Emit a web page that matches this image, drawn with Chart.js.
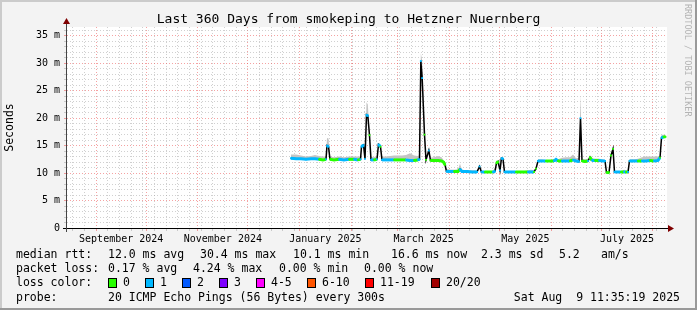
<!DOCTYPE html>
<html><head><meta charset="utf-8">
<script src="https://cdn.jsdelivr.net/npm/chart.js@4.4.1/dist/chart.umd.min.js"></script>
<style>
html,body{margin:0;padding:0;background:#f3f3f3;overflow:hidden;}
#wrap{position:relative;width:697px;height:310px;background:#f3f3f3;font-family:"DejaVu Sans Mono",monospace;color:#000;overflow:hidden;}
#c{position:absolute;left:0;top:0;}
.txt{position:absolute;white-space:pre;font-size:11.5px;line-height:13px;}
.sw{position:absolute;top:278px;width:9px;height:10px;border:1px solid #000;box-sizing:border-box;}
#title{position:absolute;left:0;top:12px;width:697px;text-align:center;font-size:13px;line-height:14px;white-space:pre;}
#rrd{position:absolute;left:683px;top:4px;writing-mode:vertical-rl;font-size:8.5px;line-height:10px;color:#b4b4b4;white-space:pre;}
.edge{position:absolute;}
</style></head>
<body>
<div id="wrap">
<canvas id="c" width="697" height="310"></canvas>
<div id="title">Last 360 Days from smokeping to Hetzner Nuernberg</div>
<div id="rrd">RRDTOOL / TOBI OETIKER</div>
<div class="txt" style="left:16px;top:248px">median rtt:</div>
<div class="txt" style="left:108px;top:248px">12.0 ms avg</div>
<div class="txt" style="left:200px;top:248px">30.4 ms max</div>
<div class="txt" style="left:293px;top:248px">10.1 ms min</div>
<div class="txt" style="left:391px;top:248px">16.6 ms now</div>
<div class="txt" style="left:481px;top:248px">2.3 ms sd</div>
<div class="txt" style="left:559px;top:248px">5.2</div>
<div class="txt" style="left:601px;top:248px">am/s</div>
<div class="txt" style="left:16px;top:262px">packet loss:</div>
<div class="txt" style="left:108px;top:262px">0.17 % avg</div>
<div class="txt" style="left:193px;top:262px">4.24 % max</div>
<div class="txt" style="left:279px;top:262px">0.00 % min</div>
<div class="txt" style="left:364px;top:262px">0.00 % now</div>
<div class="txt" style="left:16px;top:276px">loss color:</div>
<div id="lossLegend"></div>
<div class="txt" style="left:16px;top:291px">probe:</div>
<div class="txt" style="left:108px;top:291px">20 ICMP Echo Pings (56 Bytes) every 300s</div>
<div class="txt" style="right:17px;top:291px">Sat Aug  9 11:35:19 2025</div>
<div class="edge" style="left:0;top:0;width:697px;height:2px;background:#cbcbcb"></div>
<div class="edge" style="left:0;top:0;width:2px;height:310px;background:#cbcbcb"></div>
<div class="edge" style="right:0;top:0;width:2px;height:310px;background:#999"></div>
<div class="edge" style="left:0;bottom:0;width:697px;height:2px;background:#999"></div>
</div>
<script>
// ---- data (x in days since the start of the 360-day window) ----
const dayOffsets = [134.4,137.4,140.4,143.4,146.4,148.8,151.2,153.6,155.4,156.0,156.9,157.8,160.2,163.2,166.2,169.2,172.2,174.6,176.1,176.7,177.9,178.8,179.7,180.5,181.5,182.4,184.2,186.0,186.9,188.1,189.0,191.4,193.8,196.2,198.6,201.0,203.4,205.8,208.2,210.6,211.5,212.3,213.1,214.5,215.4,217.1,218.1,220.2,222.6,224.7,225.9,226.8,227.7,229.8,232.2,234.6,235.8,237.0,240.0,243.0,246.0,247.5,248.7,250.8,253.2,255.6,256.8,257.7,258.6,259.8,260.7,261.6,262.5,264.6,267.0,269.4,271.8,274.2,276.6,278.4,280.2,281.4,282.6,285.0,287.4,289.8,292.2,293.4,294.6,297.0,299.4,301.8,303.6,305.4,307.2,308.1,309.0,310.8,312.6,313.8,315.0,316.8,319.2,321.6,322.8,323.7,325.2,326.4,327.6,328.5,330.6,332.4,334.2,335.4,336.6,337.5,340.2,342.6,345.0,347.4,349.8,352.2,354.6,355.8,356.7,357.9,359.1];
const medianMs = [12.7,12.6,12.6,12.5,12.6,12.6,12.5,12.4,12.5,15.0,14.8,12.5,12.4,12.5,12.4,12.5,12.5,12.4,12.5,14.8,15.1,12.6,20.6,20.4,16.9,12.4,12.4,12.5,15.2,14.8,12.4,12.4,12.4,12.4,12.4,12.4,12.4,12.3,12.3,12.4,12.5,30.4,27.3,17.0,12.4,14.1,12.3,12.3,12.3,12.2,12.0,11.5,10.3,10.3,10.3,10.3,10.7,10.3,10.3,10.2,10.2,11.2,10.2,10.2,10.2,10.2,10.3,11.8,12.1,10.5,12.7,12.6,10.2,10.2,10.2,10.2,10.2,10.2,10.2,10.2,10.2,10.8,12.2,12.2,12.2,12.2,12.2,12.5,12.2,12.2,12.2,12.2,12.4,12.2,12.1,20.0,12.2,12.1,12.2,12.9,12.3,12.3,12.3,12.2,12.2,10.1,10.1,13.2,14.4,10.2,10.2,10.2,10.2,10.2,10.2,12.2,12.2,12.2,12.2,12.2,12.3,12.2,12.3,12.8,16.4,16.6,16.6];
const smokeHighMs = [13.4,13.4,13.2,13.0,13.1,13.3,13.1,13.0,13.0,16.4,16.3,13.0,12.9,13.0,12.9,13.0,13.0,13.0,13.0,15.2,15.3,13.0,22.9,22.5,17.5,13.0,12.9,13.2,15.5,15.1,13.0,13.0,13.1,13.2,13.2,13.2,13.3,13.6,13.2,13.1,13.3,31.8,30.5,17.6,13.0,14.6,12.8,12.9,13.1,12.9,12.4,11.9,10.8,10.6,10.6,10.7,11.7,10.6,10.5,10.5,10.5,11.4,10.4,10.4,10.4,10.4,11.0,12.0,12.3,12.5,12.9,12.8,10.4,10.4,10.4,10.4,10.4,10.4,10.5,10.6,10.5,11.0,12.5,12.5,12.4,12.4,12.5,12.7,12.5,12.8,12.9,12.9,13.4,12.7,12.8,24.2,12.6,12.5,12.6,13.3,12.7,12.6,12.6,12.5,12.4,10.3,10.3,13.5,14.7,10.4,10.4,10.4,10.6,10.5,10.4,12.5,12.5,12.6,12.9,13.0,13.0,13.0,13.0,13.1,17.0,17.0,17.0];
const lossPings = [1,1,1,1,1,1,0,0,1,1,1,0,0,1,1,0,1,0,1,1,1,1,1,1,0,1,0,1,1,0,1,1,1,0,0,0,1,1,0,1,1,1,1,0,0,1,0,0,0,0,0,0,1,1,0,0,1,1,1,1,1,1,1,0,0,1,1,0,0,1,1,1,1,1,1,0,0,0,1,1,0,0,1,1,0,0,1,1,0,1,1,0,1,1,1,1,0,0,1,0,1,0,1,1,1,0,0,0,0,1,1,0,1,0,1,1,1,0,1,1,0,1,1,0,1,0,0];
const lossColors = ['#26ff00','#00b8ff','#0059ff','#7e00ff','#ff00ff','#ff5500','#ff0000','#a10000'];
const lossLabels = ['0','1','2','3','4-5','6-10','11-19','20/20'];
const yTickLabels = ['0','5 m','10 m','15 m','20 m','25 m','30 m','35 m'];
const xTickLabels = ['September 2024','November 2024','January 2025','March 2025','May 2025','July 2025'];
const xLabelMonths = ['2024-09','2024-11','2025-01','2025-03','2025-05','2025-07'];

// ---- loss legend ----
(function(){
  const host = document.getElementById('lossLegend');
  const swX = [108,145,182,219,256,307,365,431];
  lossLabels.forEach((lb,i)=>{
    const s=document.createElement('div'); s.className='sw'; s.style.left=swX[i]+'px'; s.style.background=lossColors[i]; host.appendChild(s);
    const t=document.createElement('div'); t.className='txt'; t.style.left=(swX[i]+15)+'px'; t.style.top='276px'; t.textContent=lb; host.appendChild(t);
  });
})();

// ---- time helpers ----
const START = Date.UTC(2024,7,14,11,35,19);
const DAY = 86400000;
const dOf = (y,m,d) => (Date.UTC(y,m,d) - START)/DAY;
function lossBucket(n){ if(n<=3) return n; if(n<=5) return 4; if(n<=10) return 5; if(n<=19) return 6; return 7; }

function buildXTicks(scale){
  const t = [];
  const monthStarts = new Set();
  for (let y=2024,m=8; y<2025 || m<=7; ){
    const v = dOf(y,m,1); if (v>0 && v<360){ t.push({value:v, kind:'major'}); monthStarts.add(Math.round(v*1000)); }
    m++; if (m>11){m=0;y++;}
  }
  let sun = dOf(2024,7,18);
  for (; sun < 360; sun += 7){ if(!monthStarts.has(Math.round(sun*1000))) t.push({value:sun, kind:'minor'}); }
  xLabelMonths.forEach((s,i)=>{
    const [yy,mm] = s.split('-').map(Number);
    const v = (dOf(yy,mm-1,1) + dOf(yy,mm,1))/2;
    t.push({value:v, kind:'label', lbl:xTickLabels[i]});
  });
  t.sort((a,b)=>a.value-b.value);
  scale.ticks = t;
}
function buildYTicks(scale){
  const t=[]; for(let v=0; v<=36; v++) t.push({value:v}); scale.ticks=t;
}

const MAJOR = 'rgba(235,70,70,0.5)';
const MINOR = 'rgba(150,150,150,0.45)';

const bgPlugin = {
  id:'bg',
  beforeDraw(chart){ const {ctx,chartArea:a}=chart; ctx.save(); ctx.fillStyle='#fff'; ctx.fillRect(a.left,a.top,a.right-a.left,a.bottom-a.top); ctx.restore(); },
  afterDatasetsDraw(chart){
    const {ctx,chartArea:a}=chart; ctx.save();
    ctx.strokeStyle='#000'; ctx.lineWidth=1;
    ctx.beginPath(); ctx.moveTo(a.left-4, a.bottom+0.5); ctx.lineTo(a.right+2, a.bottom+0.5); ctx.stroke();
    ctx.strokeStyle='#444';
    ctx.beginPath(); ctx.moveTo(a.left-0.5, a.bottom+4); ctx.lineTo(a.left-0.5, a.top-4); ctx.stroke();
    ctx.fillStyle='#7f0000';
    ctx.beginPath(); ctx.moveTo(a.right+1, a.bottom-3); ctx.lineTo(a.right+7, a.bottom+0.5); ctx.lineTo(a.right+1, a.bottom+4); ctx.closePath(); ctx.fill();
    ctx.beginPath(); ctx.moveTo(a.left-4, a.top-3); ctx.lineTo(a.left-0.5, a.top-9); ctx.lineTo(a.left+3, a.top-3); ctx.closePath(); ctx.fill();
    ctx.restore();
  }
};

const pts = (arr) => dayOffsets.map((d,i)=>({x:d, y:arr[i]}));

new Chart(document.getElementById('c'), {
  type:'line',
  data:{ datasets:[
    { label:'median', data:pts(medianMs), borderColor:'#000', borderWidth:1.5, pointRadius:0, fill:false, order:1 },
    { label:'smoke', data:pts(smokeHighMs), borderColor:'rgba(0,0,0,0)', borderWidth:0, pointRadius:0, backgroundColor:'#c4c4c4', fill:'-1', order:2 },
    { label:'loss', data:pts(medianMs), borderWidth:3, borderCapStyle:'butt', pointRadius:1.3, pointStyle:'rect',
      pointBackgroundColor: ctx => lossColors[lossBucket(lossPings[ctx.dataIndex])], pointBorderWidth:0,
      segment:{ borderColor: ctx => Math.abs(ctx.p1.parsed.y-ctx.p0.parsed.y)>0.6 ? 'rgba(0,0,0,0)' : lossColors[lossBucket(lossPings[ctx.p0DataIndex])] },
      fill:false, order:0 }
  ]},
  options:{
    responsive:false, animation:false, events:[],
    layout:{ padding:{ top:27, right:30, bottom:0, left:0 } },
    plugins:{ legend:{display:false}, tooltip:{enabled:false}, title:{display:false} },
    scales:{
      x:{ type:'linear', min:0, max:360,
        afterBuildTicks: buildXTicks,
        afterFit: s => { s.height = 82; },
        grid:{ color: c => c.tick && c.tick.kind==='major' ? MAJOR : (c.tick && c.tick.kind==='minor' ? MINOR : 'rgba(0,0,0,0)'), lineWidth:1, tickLength:3 },
        border:{ display:false, dash:[1,2] },
        ticks:{ autoSkip:false, maxRotation:0, minRotation:0, padding:2, color:'#000', font:{family:'DejaVu Sans Mono', size:10},
          callback:(v,i,ticks)=> ticks[i].lbl || '' }
      },
      y:{ min:0, max:36.6,
        afterBuildTicks: buildYTicks,
        afterFit: s => { s.width = 67; },
        grid:{ color: c => { const v=c.tick?c.tick.value:0; return v===0 ? 'rgba(0,0,0,0)' : (v%5===0 ? MAJOR : MINOR); }, lineWidth:1, tickLength:3 },
        border:{ display:false, dash:[1,2] },
        title:{ display:true, text:'Seconds', color:'#000', font:{family:'DejaVu Sans Mono', size:11.5}, padding:{top:3,bottom:0} },
        ticks:{ autoSkip:false, padding:4, color:'#000', font:{family:'DejaVu Sans Mono', size:10},
          callback:(v)=> (v%5===0 ? yTickLabels[v/5] : '') }
      }
    }
  },
  plugins:[bgPlugin]
});
</script>
</body></html>
